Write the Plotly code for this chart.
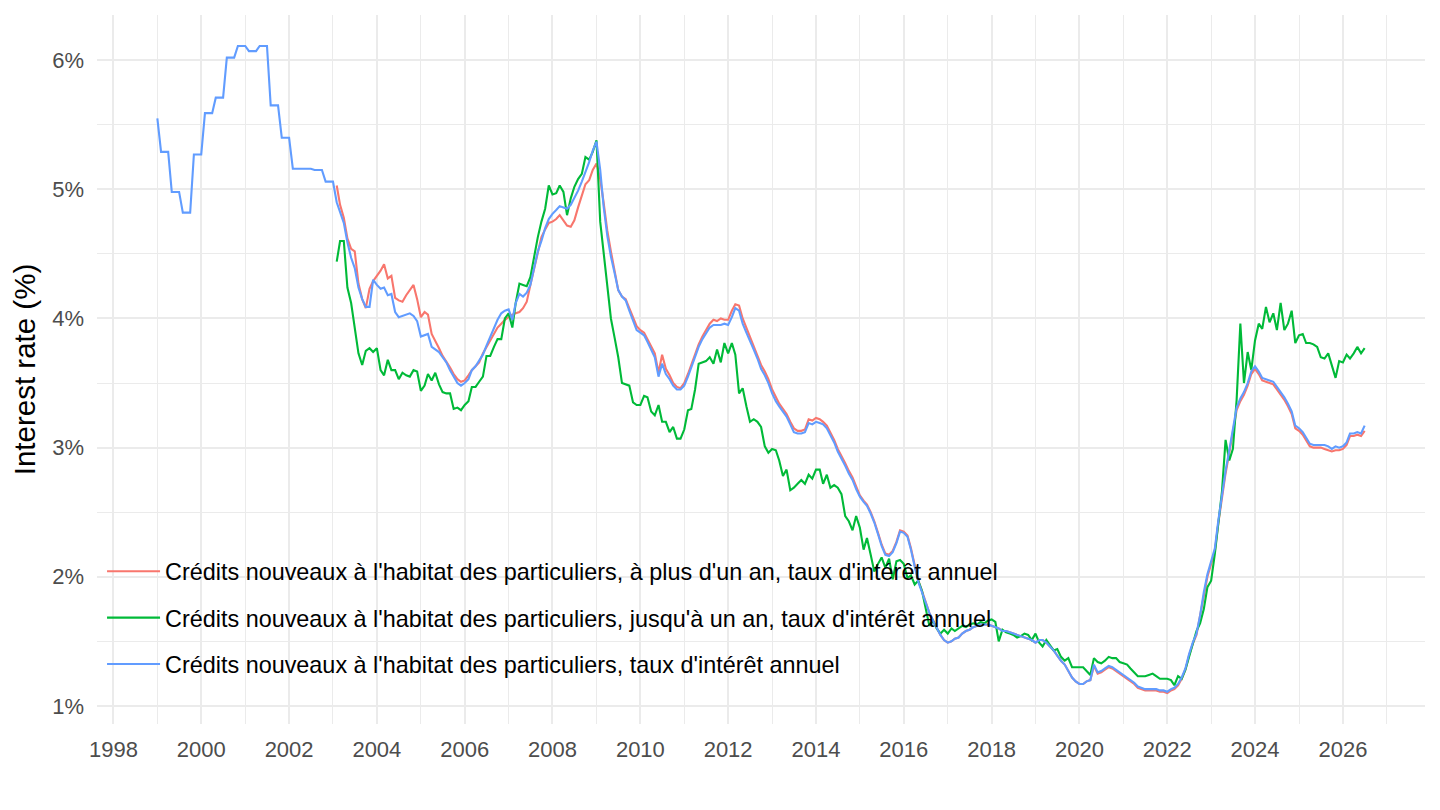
import pandas as pd
import plotly.graph_objects as go

# ---------------- data (monthly, %) ----------------
series_names = [
    "Crédits nouveaux à l'habitat des particuliers, à plus d'un an, taux d'intérêt annuel",
    "Crédits nouveaux à l'habitat des particuliers, jusqu'à un an, taux d'intérêt annuel",
    "Crédits nouveaux à l'habitat des particuliers, taux d'intérêt annuel",
]
series_colors = ["#F8766D", "#00BA38", "#619CFF"]

red_start = "2003-02-01"
red_values = [
    5.03, 4.88, 4.78, 4.62, 4.54, 4.52, 4.27, 4.15, 4.08, 4.23, 4.29,            # 2003 (Feb-Dec)
    4.33, 4.37, 4.42, 4.31, 4.33, 4.16, 4.14, 4.13, 4.18, 4.22, 4.26, 4.15,      # 2004
    4.01, 4.05, 4.03, 3.88, 3.83, 3.77, 3.71, 3.67, 3.62, 3.57, 3.53, 3.51,      # 2005
    3.52, 3.56, 3.60, 3.63, 3.66, 3.73, 3.78, 3.84, 3.89, 3.93, 3.96, 3.99,      # 2006
    4.01, 4.03, 4.04, 4.05, 4.08, 4.13, 4.26, 4.38, 4.52, 4.63, 4.69, 4.74,      # 2007
    4.75, 4.77, 4.80, 4.76, 4.72, 4.71, 4.76, 4.86, 4.96, 5.04, 5.07, 5.15,      # 2008
    5.20, 5.08, 4.90, 4.68, 4.52, 4.38, 4.22, 4.17, 4.15, 4.08, 4.01, 3.94,      # 2009
    3.91, 3.89, 3.84, 3.78, 3.73, 3.58, 3.72, 3.61, 3.56, 3.50, 3.47, 3.46,      # 2010
    3.50, 3.57, 3.64, 3.72, 3.80, 3.86, 3.91, 3.96, 3.99, 3.98, 4.00, 3.99,      # 2011
    3.99, 4.06, 4.11, 4.10, 4.00, 3.93, 3.86, 3.79, 3.72, 3.64, 3.59, 3.53,      # 2012
    3.45, 3.39, 3.34, 3.30, 3.26, 3.20, 3.15, 3.13, 3.13, 3.14, 3.22, 3.21,      # 2013
    3.23, 3.22, 3.20, 3.17, 3.12, 3.06, 2.99, 2.94, 2.88, 2.82, 2.77, 2.70,      # 2014
    2.63, 2.59, 2.56, 2.50, 2.43, 2.34, 2.25, 2.18, 2.17, 2.20, 2.27, 2.36,      # 2015
    2.35, 2.32, 2.22, 2.09, 1.97, 1.89, 1.80, 1.72, 1.66, 1.60, 1.55, 1.51,      # 2016
    1.49, 1.50, 1.52, 1.53, 1.56, 1.58, 1.59, 1.61, 1.62, 1.63, 1.63, 1.63,      # 2017
    1.62, 1.61, 1.60, 1.58, 1.58, 1.57, 1.56, 1.55, 1.54, 1.53, 1.52, 1.51,      # 2018
    1.49, 1.51, 1.51, 1.49, 1.46, 1.43, 1.39, 1.35, 1.32, 1.27, 1.22, 1.19,      # 2019
    1.17, 1.17, 1.19, 1.20, 1.31, 1.25, 1.26, 1.28, 1.30, 1.29, 1.27, 1.25,      # 2020
    1.23, 1.21, 1.19, 1.17, 1.14, 1.13, 1.12, 1.12, 1.12, 1.12, 1.11, 1.11,      # 2021
    1.10, 1.12, 1.13, 1.16, 1.21, 1.28, 1.39, 1.48, 1.55, 1.69, 1.86, 2.00,      # 2022
    2.10, 2.20, 2.41, 2.62, 2.80, 2.96, 3.13, 3.29, 3.36, 3.41, 3.48, 3.57,      # 2023
    3.61, 3.57, 3.52, 3.51, 3.50, 3.49, 3.45, 3.41, 3.37, 3.32, 3.26, 3.15,      # 2024
    3.13, 3.10, 3.06, 3.01, 3.00, 3.00, 3.00, 2.99, 2.98, 2.97, 2.98, 2.98,      # 2025
    2.99, 3.02, 3.09, 3.09, 3.10, 3.09, 3.13,                                    # 2026 (Jan-Jul)
]

green_start = "2003-02-01"
green_values = [
    4.44, 4.60, 4.60, 4.24, 4.12, 3.93, 3.73, 3.64, 3.75, 3.77, 3.74,            # 2003 (Feb-Dec)
    3.77, 3.60, 3.56, 3.68, 3.60, 3.60, 3.53, 3.58, 3.56, 3.55, 3.60, 3.59,      # 2004
    3.44, 3.48, 3.57, 3.52, 3.58, 3.49, 3.43, 3.42, 3.42, 3.30, 3.31, 3.29,      # 2005
    3.33, 3.36, 3.47, 3.47, 3.51, 3.55, 3.71, 3.71, 3.78, 3.84, 3.84, 4.00,      # 2006
    4.04, 3.93, 4.12, 4.27, 4.26, 4.25, 4.32, 4.49, 4.63, 4.75, 4.85, 5.03,      # 2007
    4.96, 4.97, 5.03, 4.98, 4.80, 4.93, 5.02, 5.08, 5.12, 5.25, 5.23, 5.29,      # 2008
    5.38, 4.75, 4.52, 4.25, 4.00, 3.85, 3.70, 3.50, 3.49, 3.48, 3.35, 3.33,      # 2009
    3.33, 3.40, 3.39, 3.28, 3.25, 3.33, 3.20, 3.20, 3.12, 3.16, 3.07, 3.07,      # 2010
    3.14, 3.29, 3.30, 3.45, 3.65, 3.66, 3.67, 3.70, 3.65, 3.76, 3.66, 3.81,      # 2011
    3.73, 3.81, 3.72, 3.42, 3.46, 3.32, 3.20, 3.22, 3.20, 3.16, 3.01, 2.96,      # 2012
    2.99, 2.98, 2.90, 2.78, 2.83, 2.67, 2.69, 2.72, 2.75, 2.72, 2.79, 2.76,      # 2013
    2.83, 2.83, 2.72, 2.79, 2.69, 2.71, 2.69, 2.64, 2.47, 2.43, 2.36, 2.47,      # 2014
    2.38, 2.21, 2.30, 2.17, 2.04, 2.10, 2.15, 2.07, 2.14, 1.98, 2.12, 2.13,      # 2015
    2.10, 1.99, 2.01, 1.94, 1.97, 1.89, 1.76, 1.62, 1.66, 1.60, 1.56, 1.59,      # 2016
    1.56, 1.60, 1.58, 1.60, 1.62, 1.61, 1.63, 1.64, 1.63, 1.65, 1.64, 1.66,      # 2017
    1.67, 1.65, 1.50, 1.59, 1.57, 1.56, 1.55, 1.53, 1.54, 1.56, 1.55, 1.51,      # 2018
    1.56, 1.49, 1.46, 1.51, 1.47, 1.43, 1.44, 1.38, 1.35, 1.37, 1.30, 1.30,      # 2019
    1.30, 1.30, 1.27, 1.24, 1.37, 1.34, 1.33, 1.35, 1.38, 1.37, 1.37, 1.34,      # 2020
    1.33, 1.32, 1.29, 1.26, 1.23, 1.23, 1.23, 1.24, 1.25, 1.23, 1.21, 1.21,      # 2021
    1.21, 1.20, 1.16, 1.23, 1.21, 1.28, 1.38, 1.48, 1.58, 1.64, 1.75, 1.92,      # 2022
    1.97, 2.18, 2.43, 2.66, 3.06, 2.90, 2.99, 3.37, 3.96, 3.50, 3.74, 3.60,      # 2023
    3.83, 3.96, 3.92, 4.09, 3.97, 4.04, 3.91, 4.12, 3.91, 3.96, 4.06, 3.81,      # 2024
    3.87, 3.88, 3.81, 3.81, 3.80, 3.78, 3.70, 3.69, 3.73, 3.64, 3.54, 3.67,      # 2025
    3.66, 3.72, 3.69, 3.73, 3.78, 3.73, 3.77,                                    # 2026 (Jan-Jul)
]

blue_start = "1999-01-01"
blue_values = [
    5.55, 5.29, 5.29, 5.29, 4.98, 4.98, 4.98, 4.82, 4.82, 4.82, 5.27, 5.27,      # 1999
    5.27, 5.59, 5.59, 5.59, 5.71, 5.71, 5.71, 6.02, 6.02, 6.02, 6.11, 6.11,      # 2000
    6.11, 6.07, 6.07, 6.07, 6.11, 6.11, 6.11, 5.65, 5.65, 5.65, 5.40, 5.40,      # 2001
    5.40, 5.16, 5.16, 5.16, 5.16, 5.16, 5.16, 5.15, 5.15, 5.15, 5.06, 5.06,      # 2002
    5.06, 4.90, 4.83, 4.74, 4.59, 4.47, 4.39, 4.24, 4.15, 4.09, 4.09, 4.30,      # 2003
    4.26, 4.23, 4.24, 4.18, 4.19, 4.05, 4.01, 4.02, 4.03, 4.04, 4.02, 3.98,      # 2004
    3.86, 3.87, 3.88, 3.78, 3.76, 3.74, 3.70, 3.66, 3.60, 3.55, 3.50, 3.48,      # 2005
    3.50, 3.53, 3.60, 3.63, 3.67, 3.72, 3.79, 3.86, 3.93, 3.99, 4.04, 4.06,      # 2006
    4.07, 3.99, 4.12, 4.19, 4.17, 4.20, 4.26, 4.40, 4.52, 4.60, 4.70, 4.77,      # 2007
    4.81, 4.84, 4.87, 4.86, 4.85, 4.88, 4.93, 4.99, 5.06, 5.13, 5.21, 5.30,      # 2008
    5.37, 5.15, 4.87, 4.64, 4.48, 4.35, 4.22, 4.17, 4.14, 4.06, 3.98, 3.91,      # 2009
    3.89, 3.87, 3.82, 3.76, 3.70, 3.55, 3.65, 3.57, 3.53, 3.48, 3.45, 3.45,      # 2010
    3.48, 3.55, 3.62, 3.69, 3.78, 3.84, 3.88, 3.93, 3.95, 3.95, 3.95, 3.96,      # 2011
    3.95, 4.01, 4.08, 4.06, 3.96, 3.89, 3.83, 3.76, 3.69, 3.61, 3.56, 3.50,      # 2012
    3.42, 3.36, 3.32, 3.28, 3.24, 3.18, 3.12, 3.11, 3.11, 3.12, 3.19, 3.18,      # 2013
    3.20, 3.19, 3.18, 3.15, 3.10, 3.04, 2.97, 2.92, 2.86, 2.80, 2.75, 2.68,      # 2014
    2.62, 2.58, 2.55, 2.49, 2.42, 2.33, 2.24, 2.17, 2.16, 2.19, 2.26, 2.35,      # 2015
    2.34, 2.31, 2.21, 2.08, 1.96, 1.88, 1.80, 1.72, 1.66, 1.60, 1.55, 1.51,      # 2016
    1.49, 1.50, 1.52, 1.53, 1.56, 1.58, 1.59, 1.61, 1.62, 1.63, 1.63, 1.63,      # 2017
    1.62, 1.61, 1.60, 1.58, 1.58, 1.57, 1.56, 1.55, 1.54, 1.53, 1.52, 1.51,      # 2018
    1.49, 1.51, 1.51, 1.49, 1.46, 1.43, 1.39, 1.35, 1.32, 1.27, 1.22, 1.19,      # 2019
    1.17, 1.17, 1.19, 1.20, 1.32, 1.26, 1.27, 1.29, 1.31, 1.30, 1.28, 1.26,      # 2020
    1.24, 1.22, 1.20, 1.18, 1.15, 1.14, 1.13, 1.13, 1.13, 1.13, 1.12, 1.12,      # 2021
    1.11, 1.13, 1.14, 1.17, 1.22, 1.29, 1.40, 1.49, 1.56, 1.70, 1.88, 2.02,      # 2022
    2.12, 2.22, 2.43, 2.64, 2.82, 2.98, 3.15, 3.31, 3.38, 3.43, 3.50, 3.59,      # 2023
    3.63, 3.59, 3.54, 3.53, 3.52, 3.51, 3.47, 3.43, 3.39, 3.34, 3.28, 3.17,      # 2024
    3.15, 3.12, 3.08, 3.03, 3.02, 3.02, 3.02, 3.02, 3.01, 2.99, 3.01, 3.00,      # 2025
    3.01, 3.04, 3.11, 3.11, 3.12, 3.11, 3.17,                                    # 2026 (Jan-Jul)
]

y_tick_values = [1, 2, 3, 4, 5, 6]
y_tick_labels = ["1%", "2%", "3%", "4%", "5%", "6%"]
y_axis_title = "Interest rate (%)"

# ---------------- figure ----------------
FONT = "Liberation Sans, Arial, Helvetica, sans-serif"
fig = go.Figure()
for name, start, vals, color in zip(
    series_names,
    [red_start, green_start, blue_start],
    [red_values, green_values, blue_values],
    series_colors,
):
    dates = pd.date_range(start, periods=len(vals), freq="MS")
    fig.add_trace(go.Scatter(
        x=dates, y=vals, mode="lines", name=name, legendgroup=name,
        line=dict(color=color, width=2.1), hoverinfo="skip",
    ))

fig.update_layout(
    width=1440, height=810,
    margin=dict(l=97, r=15, t=15, b=86, pad=0),
    paper_bgcolor="white", plot_bgcolor="white",
    font=dict(family=FONT, color="#4D4D4D", size=22),
    legend=dict(
        x=0.0038, xanchor="left", y=0.1495, yanchor="middle",
        bgcolor="rgba(0,0,0,0)", borderwidth=0,
        font=dict(family=FONT, size=23.4, color="black"),
        traceorder="grouped", tracegroupgap=13, itemwidth=53,
    ),
)
fig.update_xaxes(
    type="date", range=["1997-08-17", "2027-11-15"],
    tick0="1998-01-01", dtick="M24", tickformat="%Y",
    showgrid=True, gridcolor="#EBEBEB", gridwidth=2,
    minor=dict(showgrid=True, tick0="1998-01-01", dtick="M12", gridcolor="#EBEBEB", gridwidth=1),
    showline=False, zeroline=False, ticks="",
    tickfont=dict(family=FONT, size=22, color="#4D4D4D"),
    ticklabelstandoff=10,
)
fig.update_yaxes(
    range=[0.86, 6.35], tickmode="array",
    tickvals=y_tick_values, ticktext=y_tick_labels,
    showgrid=True, gridcolor="#EBEBEB", gridwidth=2,
    minor=dict(showgrid=True, tick0=0.5, dtick=1, gridcolor="#EBEBEB", gridwidth=1),
    showline=False, zeroline=False, ticks="",
    tickfont=dict(family=FONT, size=22, color="#4D4D4D"),
    ticklabelstandoff=12,
    title=dict(text=y_axis_title, font=dict(family=FONT, size=29.5, color="black"), standoff=7),
)

fig.write_html(
    "out.html",
    config={"displayModeBar": False},
    post_script="document.body.style.margin='0';document.body.style.overflow='hidden';",
)
